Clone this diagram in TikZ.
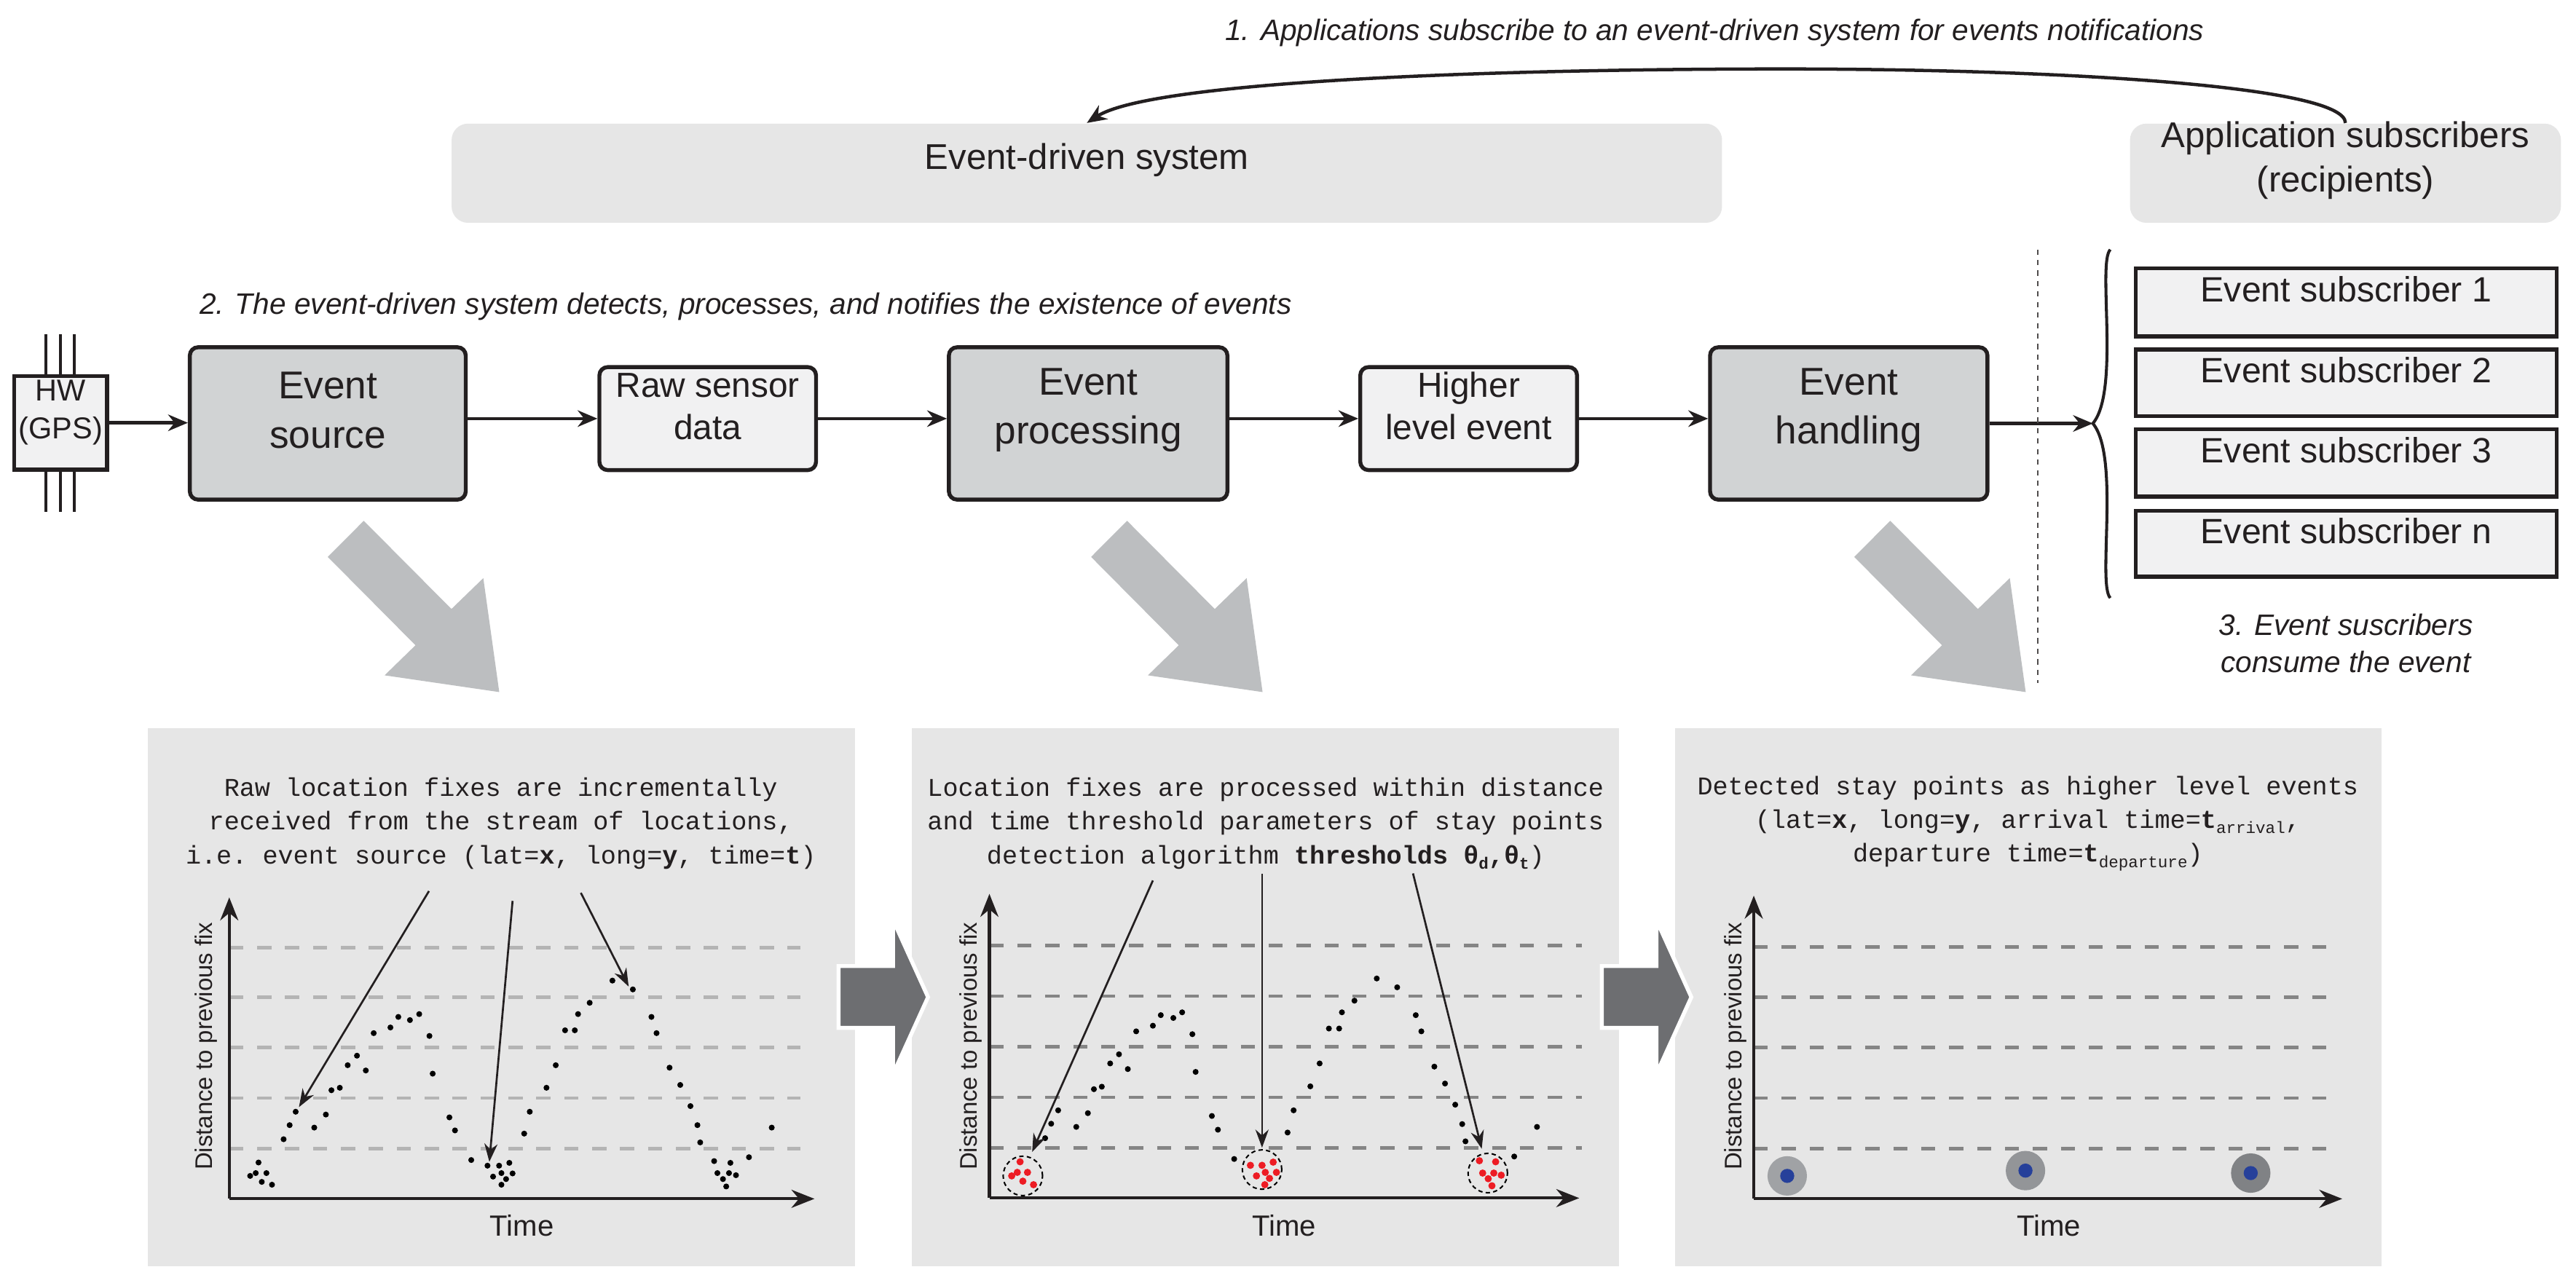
\documentclass[tikz,border=0pt]{standalone}
\usepackage{fontspec}
\setmainfont{Liberation Sans}
\setsansfont{Liberation Sans}
\setmonofont{Liberation Mono}
\usetikzlibrary{arrows.meta,fit,shapes.geometric}
\definecolor{lc}{HTML}{231F20}
\definecolor{boxdark}{HTML}{D1D3D4}
\definecolor{boxlight}{HTML}{F1F1F2}
\definecolor{panel}{HTML}{E6E6E6}
\definecolor{bigarrow}{HTML}{BCBEC0}
\definecolor{chev}{HTML}{6D6E71}
\definecolor{dashA}{HTML}{B4B4B4}
\definecolor{dashB}{HTML}{858585}
\definecolor{stayA}{HTML}{A0A2A5}
\definecolor{stayB}{HTML}{939598}
\definecolor{stayC}{HTML}{808285}
\definecolor{stayblue}{HTML}{26409A}
\definecolor{dotred}{HTML}{ED1C24}
\tikzset{
  box/.style={inner sep=0pt, draw=lc, line width=1.2pt, align=center, text=lc},
  bigbox/.style={box, fill=boxdark, rounded corners=2.5pt, font=\fontsize{11.8}{15}\selectfont},
  smallbox/.style={box, fill=boxlight, rounded corners=2.5pt, font=\fontsize{10.6}{13}\selectfont},
  subbox/.style={box, fill=boxlight, font=\fontsize{10.7}{13}\selectfont},
  topbox/.style={inner sep=0pt, fill=panel, rounded corners=5pt, align=center, text=lc},
  conn/.style={draw=lc, line width=1pt, -{Stealth[length=6pt,width=5pt]}},
  callout/.style={draw=lc, line width=0.6pt, -{Stealth[length=5.5pt,width=4pt]}},
  axis/.style={draw=lc, line width=0.9pt, -{Stealth[length=7pt,width=5.5pt]}},
  note/.style={font=\itshape\fontsize{9}{11.4}\selectfont, text=lc, align=center},
  mono/.style={font=\ttfamily\fontsize{7.8}{10.25}\selectfont, text=lc, align=center},
  ylab/.style={rotate=90, font=\fontsize{7.3}{9}\selectfont, text=lc},
  tlab/.style={font=\fontsize{8.9}{11}\selectfont, text=lc},
  dot/.style={circle, fill=black, inner sep=0pt, minimum size=1.8pt},
  rdot/.style={circle, fill=dotred, inner sep=0pt, minimum size=2.2pt},
  ring/.style={circle, draw=black, line width=0.45pt, dash pattern=on 1.3pt off 1pt, inner sep=0pt, minimum size=12pt},
  stay/.style={circle, inner sep=0pt, minimum size=12pt},
  stayc/.style={circle, fill=stayblue, inner sep=0pt, minimum size=4.3pt},
  pnl/.style={fill=panel},
}
\newcommand{\sbx}[1]{\raisebox{-1.6pt}{\fontsize{5}{5}\selectfont #1}}
\begin{document}
\begin{tikzpicture}[x=0.5pt,y=-0.5pt]
\useasboundingbox (0,0) rectangle (1568.6,781);
\fill[white] (0,0) rectangle (1568.6,781);

% ---------- top row ----------
\node[topbox, fit={(275,75.3) (1048.6,135.7)}, font=\fontsize{10.9}{13}\selectfont] (eds) {Event-driven system};
\node[topbox, fit={(1297,75.3) (1559.4,135.7)}, font=\fontsize{10.9}{13.4}\selectfont] (app) {Application subscribers\\(recipients)};
\node[note, anchor=center] (t1) at (1044,20) {1. Applications subscribe to an event-driven system for events notifications};
\draw[conn] (app.north) .. controls (1428,52) and (1250,42) .. (1086,42) .. controls (900,42) and (700,50) .. (eds.north);

\node[note, anchor=west] (t2) at (114.5,186.8) {2. The event-driven system detects, processes, and notifies the existence of events};

\node[box, fill=boxlight, fit={(8.7,229) (65.2,286)}, font=\fontsize{9.2}{11.5}\selectfont] (hw) {HW\\(GPS)};
\foreach \xx in {28,36.7,45.3}{
  \draw[lc, line width=1pt] (\xx,203.7) -- (\xx,229);
  \draw[lc, line width=1pt] (\xx,286) -- (\xx,311.8);
}
\node[bigbox, fit={(115.6,211.5) (283.6,304.3)}] (src) {Event\\source};
\node[smallbox, fit={(365,223.6) (496.9,286.3)}] (raw) {Raw sensor\\data};
\node[bigbox, fit={(577.8,211.5) (747.4,304.3)}] (proc) {Event\\processing};
\node[smallbox, fit={(828.3,223.6) (960.3,286.3)}] (hle) {Higher\\level event};
\node[bigbox, fit={(1041.3,211.5) (1210.2,304.3)}] (hand) {Event\\handling};

\draw[conn] (hw.east) -- (hw.east -| src.west);
\draw[conn] (src.east |- raw.west) -- (raw.west);
\draw[conn] (raw.east) -- (raw.east -| proc.west);
\draw[conn] (proc.east |- hle.west) -- (hle.west);
\draw[conn] (hle.east) -- (hle.east -| hand.west);
\coordinate (bt) at (1274.4,257.9);
\draw[conn] (hand.east) -- (bt);

\draw[lc!80, line width=0.6pt, dash pattern=on 1.6pt off 1.6pt] (1240.9,151.9) -- (1240.9,416);
\draw[lc, line width=0.9pt] (1285,152) .. controls (1277,160) and (1291,238) .. (bt) .. controls (1291,278) and (1277,356) .. (1285,364.2);

\node[subbox, fit={(1300.6,163.4) (1556.8,204.8)}] (s1) {Event subscriber 1};
\node[subbox, fit={(1300.6,212.9) (1556.8,253.5)}] (s2) {Event subscriber 2};
\node[subbox, fit={(1300.6,261.5) (1556.8,302.4)}] (s3) {Event subscriber 3};
\node[subbox, fit={(1300.6,311) (1556.8,351.3)}] (sn) {Event subscriber n};
\node[note] (t3) at (1428.4,391.8) {3. Event suscribers\\consume the event};

% big gray arrows
\foreach \dx in {0,464.8,929.5}{
  \fill[bigarrow, shift={(\dx,0)}] (199.6,339.2) -- (221.5,317.2) -- (274.9,370.9) -- (294.3,352.1)
     -- (304,421.5) -- (234.2,411.3) -- (253,393) -- cycle;
}

% ---------- panels ----------
\fill[pnl] (90.1,443.5) rectangle (520.7,771);
\fill[pnl] (555.3,443.5) rectangle (985.7,771);
\fill[pnl] (1019.8,443.5) rectangle (1450.3,771);

\foreach \dx in {0,464.8}{
  \filldraw[chev, draw=white, line width=1.2pt, shift={(\dx,0)}] (510.6,588.4) -- (543.8,588.4) -- (543.8,560.3)
     -- (565.1,607.3) -- (543.8,654.2) -- (543.8,626) -- (510.6,626) -- cycle;
}

% panel texts
\node[mono] (p1t) at (305,501.5) {Raw location fixes are incrementally\\received from the stream of locations,\\i.e. event source (lat=\textbf{x}, long=\textbf{y}, time=\textbf{t})};
\node[mono] (p2t) at (770.7,501.5) {Location fixes are processed within distance\\and time threshold parameters of stay points\\detection algorithm \textbf{thresholds θ\sbx{d},θ\sbx{t}})};
\node[mono] (p3t) at (1234.8,501.5) {Detected stay points as higher level events\\(lat=\textbf{x}, long=\textbf{y}, arrival time=\textbf{t}\sbx{arrival},\\departure time=\textbf{t}\sbx{departure})};

% panel 1
\begin{scope}[shift={(88.7,443.5)}, xscale=0.2828, yscale=0.2147]
  \foreach \yy in {622,763,906,1049,1192}
    \draw[dashA, line width=1.05pt, dash pattern=on 4.3pt off 4.2pt] (180,\yy) -- (1410,\yy);
  \draw[axis] (180,1335) -- (180,480);
  \draw[axis] (180,1335) -- (1440,1335);
  \node[ylab] at (130,902) {Distance to previous fix};
  \node[tlab] at (810,1410) {Time};
  \foreach \p in {(225,1270),(237,1262),(243,1232),(250,1287),(260,1262),(272,1295),
    (297,1166),(310,1126),(323,1088),(363,1133),(388,1096),(400,1027),(418,1020),(435,956),(455,929),(474,971),(491,865),(527,849),(544,819),(569,828),(589,811),(611,873),(618,980),(654,1104),(666,1141),(701,1225),
    (736,1241),(748,1272),(761,1241),(766,1262),(783,1233),(790,1263),(776,1279),(766,1295),
    (815,1150),(827,1088),(863,1020),(883,956),(903,857),(924,857),(931,811),(956,779),(1005,716),(1049,741),(1089,819),(1100,865),(1128,963),(1151,1012),(1173,1072),(1188,1126),(1194,1175),
    (1224,1228),(1259,1233),(1231,1262),(1256,1262),(1243,1279),(1271,1268),(1250,1300),
    (1299,1217),(1348,1133)}
    \node[dot] at \p {};
  \draw[callout] (610,462) -- (330,1075);
  \draw[callout] (790,490) -- (740,1230);
  \draw[callout] (937,467) -- (1040,733);
\end{scope}

% panel 2
\begin{scope}[shift={(554.4,443.5)}, xscale=0.2828, yscale=0.2147]
  \foreach \yy in {617,760,903,1047,1190}
    \draw[dashB, line width=1.05pt, dash pattern=on 4.3pt off 4.2pt] (170,\yy) -- (1445,\yy);
  \draw[axis] (170,1333) -- (170,470);
  \draw[axis] (170,1333) -- (1440,1333);
  \node[ylab] at (130,902) {Distance to previous fix};
  \node[tlab] at (805,1410) {Time};
  \foreach \p in {(290,1163),(303,1122),(318,1084),(357,1131),(382,1092),(395,1024),(412,1017),(430,951),(449,925),(468,967),(486,860),(522,844),(539,814),(566,822),(585,806),(607,868),(614,975),(649,1100),(662,1139),(697,1222),(812,1147),(825,1084),(861,1016),(881,951),(901,852),(923,852),(929,806),(956,773),(1004,710),(1048,735),(1088,814),(1100,860),(1128,960),(1151,1008),(1173,1068),(1188,1123),(1195,1172),(1300,1215),(1349,1131)}
    \node[dot] at \p {};
  \foreach \p in {(236,1230),(218,1270),(230,1260),(252,1260),(242,1285),(265,1295),
    (732,1240),(757,1240),(781,1231),(764,1260),(788,1260),(745,1270),(773,1277),(763,1295),
    (1225,1227),(1260,1230),(1232,1262),(1256,1262),(1244,1278),(1272,1268),(1252,1298)}
    \node[rdot] at \p {};
  \node[ring] at (242,1270) {};
  \node[ring] at (757,1252) {};
  \node[ring] at (1243,1262) {};
  \draw[callout] (522,432) -- (262,1202);
  \draw[callout] (757,412) -- (757,1190);
  \draw[callout] (1082,412) -- (1230,1193);
\end{scope}

% panel 3
\begin{scope}[shift={(1015.6,443.5)}, xscale=0.2828, yscale=0.2147]
  \foreach \yy in {620,763,906,1049,1192}
    \draw[dashB, line width=1.05pt, dash pattern=on 4.3pt off 4.2pt] (185,\yy) -- (1420,\yy);
  \draw[axis] (185,1335) -- (185,475);
  \draw[axis] (185,1335) -- (1452,1335);
  \node[ylab] at (145,902) {Distance to previous fix};
  \node[tlab] at (820,1410) {Time};
  \node[stay, fill=stayA] at (257,1270) {};
  \node[stay, fill=stayB] at (770,1255) {};
  \node[stay, fill=stayC] at (1255,1262) {};
  \node[stayc] at (257,1270) {};
  \node[stayc] at (770,1255) {};
  \node[stayc] at (1255,1262) {};
\end{scope}
\end{tikzpicture}
\end{document}
